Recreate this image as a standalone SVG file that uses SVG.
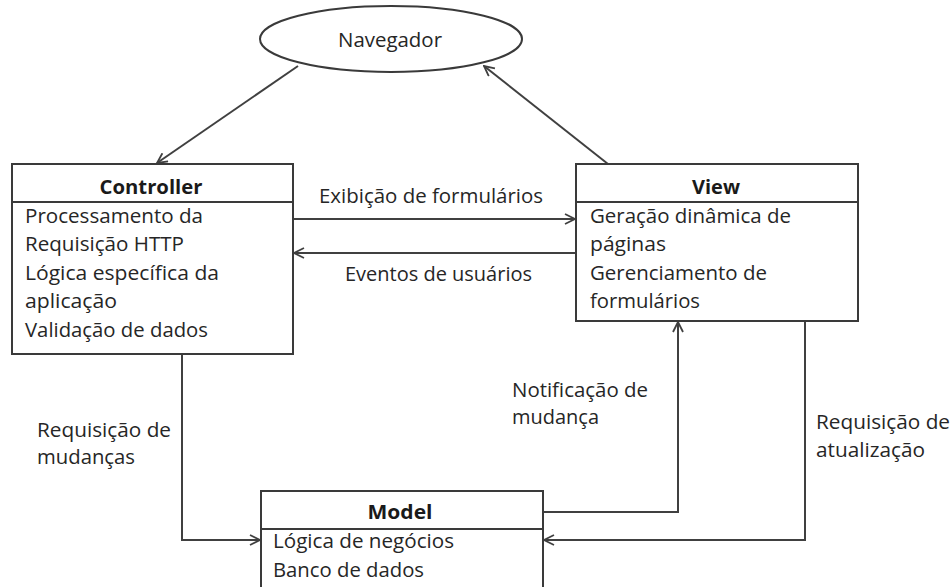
<svg xmlns="http://www.w3.org/2000/svg" width="951" height="587" viewBox="0 0 951 587">
<defs>
<style>
.box{fill:#fff;stroke:#3a3a3a;stroke-width:2}
.sep{stroke:#3a3a3a;stroke-width:2}
.t{font-family:"Open Sans","Liberation Sans",sans-serif;font-size:19.5px;fill:#262626}
.b{font-family:"Open Sans","Liberation Sans",sans-serif;font-size:19.5px;font-weight:bold;fill:#1a1a1a;text-anchor:middle}
.c{fill:none;stroke:#404040;stroke-width:2}
</style>
<marker id="ah" viewBox="0 0 12 12" refX="11" refY="6" markerWidth="12" markerHeight="12" markerUnits="userSpaceOnUse" orient="auto">
<path d="M1,1 L11,6 L1,11" fill="none" stroke="#404040" stroke-width="1.8"/>
</marker>
</defs>
<rect width="951" height="587" fill="#fff"/>
<g id="connectors">
<path class="c" d="M298,66 L157,163" marker-end="url(#ah)"/>
<path class="c" d="M608,164 L484,66" marker-end="url(#ah)"/>
<path class="c" d="M293,219 L575,219" marker-end="url(#ah)"/>
<path class="c" d="M576,253 L294,253" marker-end="url(#ah)"/>
<path class="c" d="M182,354 L182,540 L260,540" marker-end="url(#ah)"/>
<path class="c" d="M543,512 L678,512 L678,322" marker-end="url(#ah)"/>
<path class="c" d="M805,321 L805,540 L544,540" marker-end="url(#ah)"/>
<text class="t" x="319" y="203" textLength="224" lengthAdjust="spacingAndGlyphs">Exibição de formulários</text>
<text class="t" x="345" y="281" textLength="187" lengthAdjust="spacingAndGlyphs">Eventos de usuários</text>
<text class="t" x="37" y="437" textLength="134" lengthAdjust="spacingAndGlyphs">Requisição de</text>
<text class="t" x="37" y="464" textLength="98" lengthAdjust="spacingAndGlyphs">mudanças</text>
<text class="t" x="512" y="397" textLength="136" lengthAdjust="spacingAndGlyphs">Notificação de</text>
<text class="t" x="512" y="424" textLength="87" lengthAdjust="spacingAndGlyphs">mudança</text>
<text class="t" x="816" y="429" textLength="134" lengthAdjust="spacingAndGlyphs">Requisição de</text>
<text class="t" x="816" y="457" textLength="109" lengthAdjust="spacingAndGlyphs">atualização</text>
</g>
<g id="navegador">
<ellipse cx="391" cy="39" rx="131" ry="33" fill="#fff" stroke="#3a3a3a" stroke-width="2"/>
<text class="t" x="338" y="47" textLength="104" lengthAdjust="spacingAndGlyphs">Navegador</text>
</g>
<g id="controller">
<rect class="box" x="12" y="164" width="281" height="190"/>
<line class="sep" x1="12" y1="202" x2="293" y2="202"/>
<text class="b" x="151" y="194" textLength="103" lengthAdjust="spacingAndGlyphs">Controller</text>
<text class="t" x="25" y="223" textLength="178" lengthAdjust="spacingAndGlyphs">Processamento da</text>
<text class="t" x="25" y="251" textLength="159" lengthAdjust="spacingAndGlyphs">Requisição HTTP</text>
<text class="t" x="25" y="280" textLength="194" lengthAdjust="spacingAndGlyphs">Lógica específica da</text>
<text class="t" x="25" y="308" textLength="92" lengthAdjust="spacingAndGlyphs">aplicação</text>
<text class="t" x="25" y="337" textLength="183" lengthAdjust="spacingAndGlyphs">Validação de dados</text>
</g>
<g id="view">
<rect class="box" x="576" y="164" width="282" height="157"/>
<line class="sep" x1="576" y1="202" x2="858" y2="202"/>
<text class="b" x="716" y="194" textLength="48" lengthAdjust="spacingAndGlyphs">View</text>
<text class="t" x="590" y="223" textLength="201" lengthAdjust="spacingAndGlyphs">Geração dinâmica de</text>
<text class="t" x="590" y="251" textLength="76" lengthAdjust="spacingAndGlyphs">páginas</text>
<text class="t" x="590" y="280" textLength="177" lengthAdjust="spacingAndGlyphs">Gerenciamento de</text>
<text class="t" x="590" y="308" textLength="110" lengthAdjust="spacingAndGlyphs">formulários</text>
</g>
<g id="model">
<rect class="box" x="261" y="491" width="282" height="110"/>
<line class="sep" x1="261" y1="529" x2="543" y2="529"/>
<text class="b" x="400" y="519" textLength="65" lengthAdjust="spacingAndGlyphs">Model</text>
<text class="t" x="273" y="548" textLength="181" lengthAdjust="spacingAndGlyphs">Lógica de negócios</text>
<text class="t" x="273" y="577" textLength="151" lengthAdjust="spacingAndGlyphs">Banco de dados</text>
</g>
</svg>
